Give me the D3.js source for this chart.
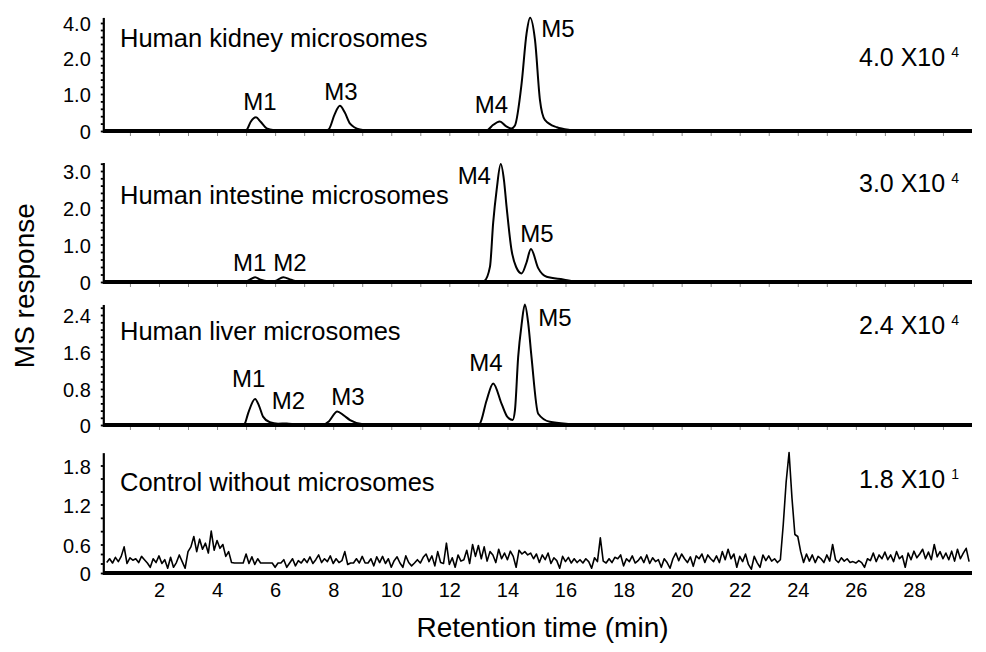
<!DOCTYPE html>
<html><head><meta charset="utf-8">
<script src="https://cdn.jsdelivr.net/npm/d3@7"></script>
<style>
body{margin:0;background:#fff}
text{font-family:"Liberation Sans",Arial,Helvetica,sans-serif;fill:#000}
</style>
</head><body>
<svg id="chart" width="986" height="652"></svg>
<script>
// ---------------- DATA ----------------
const panelTitles = ["Human kidney microsomes","Human intestine microsomes","Human liver microsomes","Control without microsomes"];
const scaleMantissa = ["4.0 X10","3.0 X10","2.4 X10","1.8 X10"];
const scaleExponent = ["4","4","4","1"];
const yTickValues = [[0,1,2,4],[0,1,2,3],[0,0.8,1.6,2.4],[0,0.6,1.2,1.8]];
const yTickLabels = [["0","1.0","2.0","4.0"],["0","1.0","2.0","3.0"],["0","0.8","1.6","2.4"],["0","0.6","1.2","1.8"]];
const yAxisTop = [4.29,3.22,2.62,1.99];
const yMinorStep = [[0.2,0.4],[0.2,0.2],[0.16,0.16],[0.2,0.2]];
const xTickValues = [2,4,6,8,10,12,14,16,18,20,22,24,26,28];
const xMinorTicks = [1,2,3,4,5,6,7,8,9,10,11,12,13,14,15,16,17,18,19,20,21,22,23,24,25,26,27,28,29];
const xDomain = [0.1,30];

// chromatograms: [retention time (min), response]
const kidneyTrace = [[0.1,0],[4.9,0],[5.02,0.03],[5.16,0.25],[5.34,0.37],[5.5,0.25],[5.71,0.07],[6.0,0.02],[6.4,0],
  [7.7,0],[7.85,0.05],[8.05,0.45],[8.23,0.68],[8.4,0.5],[8.58,0.2],[8.92,0.04],[9.3,0],
  [13.2,0],[13.33,0.03],[13.5,0.16],[13.74,0.26],[13.95,0.13],[14.14,0.07],[14.26,0.15],[14.49,1.3],[14.66,3.41],[14.78,4.3],
  [14.95,3.03],[15.12,0.84],[15.29,0.3],[15.7,0.1],[16.15,0.03],[16.8,0],[30,0]];
const intestineTrace = [[0.1,0],[4.95,0],[5.1,0.05],[5.31,0.13],[5.5,0.06],[5.75,0.02],[6.0,0.03],[6.28,0.13],[6.55,0.06],[6.9,0],
  [13.1,0],[13.21,0.03],[13.4,0.41],[13.51,1.59],[13.63,2.49],[13.77,3.19],[13.88,2.76],[13.97,2.03],[14.14,0.86],[14.3,0.4],
  [14.49,0.23],[14.65,0.5],[14.81,0.88],[15.06,0.37],[15.35,0.14],[15.92,0.07],[16.5,0],[30,0]];
const liverTrace = [[0.1,0],[4.85,0],[4.95,0.03],[5.07,0.26],[5.31,0.58],[5.45,0.42],[5.59,0.18],[5.82,0.06],[6.1,0.03],[6.4,0.035],[6.7,0.01],[7.0,0],
  [7.65,0],[7.85,0.08],[8.14,0.3],[8.35,0.22],[8.58,0.11],[8.98,0.02],[9.3,0],
  [12.95,0],[13.05,0.03],[13.28,0.54],[13.51,0.92],[13.8,0.47],[14.0,0.18],[14.18,0.11],[14.26,0.33],[14.37,1.48],[14.49,2.2],[14.6,2.63],
  [14.72,2.2],[14.83,1.48],[15.06,0.25],[15.46,0.07],[16.15,0.02],[16.8,0],[30,0]];
// control trace: sampled every 0.1 min starting at 0.2 min
const controlStart = 0.2, controlStep = 0.1;
const controlValues = [
  0.22,0.3,0.21,0.33,0.24,0.35,0.55,0.2,0.32,0.27,
  0.3,0.22,0.35,0.28,0.21,0.12,0.3,0.22,0.36,0.2,
  0.28,0.1,0.33,0.12,0.22,0.38,0.24,0.1,0.45,0.55,
  0.72,0.45,0.68,0.5,0.62,0.42,0.8,0.48,0.66,0.52,
  0.6,0.35,0.45,0.22,0.21,0.21,0.21,0.21,0.4,0.2,
  0.34,0.18,0.3,0.21,0.21,0.21,0.21,0.21,0.12,0.21,
  0.21,0.28,0.12,0.21,0.3,0.15,0.26,0.21,0.3,0.22,
  0.34,0.2,0.28,0.38,0.22,0.3,0.24,0.36,0.2,0.3,
  0.22,0.26,0.45,0.18,0.21,0.21,0.3,0.21,0.35,0.21,
  0.21,0.3,0.15,0.34,0.22,0.35,0.2,0.3,0.12,0.26,
  0.34,0.21,0.12,0.36,0.22,0.15,0.21,0.28,0.21,0.33,
  0.4,0.24,0.36,0.15,0.45,0.22,0.2,0.62,0.18,0.32,
  0.12,0.38,0.25,0.28,0.48,0.2,0.6,0.35,0.58,0.3,
  0.55,0.25,0.45,0.38,0.22,0.5,0.3,0.42,0.28,0.46,
  0.35,0.12,0.48,0.4,0.45,0.38,0.42,0.3,0.4,0.22,
  0.38,0.28,0.42,0.2,0.32,0.26,0.1,0.35,0.24,0.33,
  0.21,0.3,0.22,0.28,0.21,0.3,0.24,0.1,0.32,0.24,
  0.7,0.25,0.21,0.3,0.22,0.33,0.3,0.38,0.15,0.3,
  0.24,0.36,0.21,0.26,0.34,0.22,0.38,0.2,0.32,0.24,
  0.28,0.12,0.3,0.22,0.1,0.3,0.42,0.26,0.4,0.3,
  0.22,0.34,0.14,0.36,0.3,0.4,0.22,0.38,0.3,0.24,
  0.36,0.22,0.45,0.28,0.5,0.3,0.4,0.12,0.35,0.24,
  0.4,0.18,0.08,0.35,0.22,0.12,0.38,0.26,0.36,0.25,
  0.3,0.22,0.28,0.9,1.55,2.0,1.3,0.75,0.72,0.45,
  0.22,0.4,0.25,0.38,0.22,0.35,0.3,0.22,0.38,0.25,
  0.6,0.28,0.22,0.32,0.25,0.3,0.22,0.24,0.21,0.26,
  0.22,0.12,0.3,0.26,0.42,0.24,0.38,0.3,0.44,0.28,
  0.38,0.24,0.45,0.3,0.36,0.12,0.42,0.28,0.46,0.32,
  0.4,0.5,0.3,0.44,0.28,0.6,0.34,0.45,0.3,0.42,
  0.28,0.46,0.25,0.5,0.3,0.42,0.52,0.24];
const controlTrace = controlValues.map((v,i)=>[controlStart + i*controlStep, v]);
const traces = [kidneyTrace, intestineTrace, liverTrace, controlTrace];

// peak labels: [name, retention time, response] anchor of label
const peakLabels = [
  [["M1",5.48,0.57],["M3",8.27,0.84],["M4",13.45,0.49],["M5",15.74,3.2]],
  [["M1",5.12,0.29],["M2",6.51,0.29],["M4",12.86,2.64],["M5",15.02,1.07]],
  [["M1",5.09,0.84],["M2",6.46,0.36],["M3",8.51,0.44],["M4",13.26,1.18],["M5",15.64,2.16]],
  []
];

// ---------------- LAYOUT ----------------
const panelRanges = [[131,94,58,23],[282,244.5,207.5,171],[425,389,351.5,315],[573,544.5,504.5,465.5]];
const titleBaselines = [47,204,340,491];
const scaleBaselines = [65.5,192,334,488];
const traceWidths = [2,2,2,1.6];

const svg = d3.select("#chart");
const x = d3.scaleLinear().domain(xDomain).range([103.8,972]);
const x0 = x(xDomain[0]);

panelTitles.forEach((title,i)=>{
  const y = d3.scaleLinear().domain(yTickValues[i]).range(panelRanges[i]);
  const g = svg.append("g");

  const top = yAxisTop[i];
  const mid = yTickValues[i][2];
  const minor = d3.range(0, mid+1e-6, yMinorStep[i][0]).concat(d3.range(mid+yMinorStep[i][1], top+1e-6, yMinorStep[i][1]));
  const minorAxis = g.append("g").attr("transform",`translate(${x0},0)`)
    .call(d3.axisLeft(y).tickValues(minor).tickSize(3).tickFormat(""));
  minorAxis.select(".domain").remove();
  minorAxis.selectAll("line").attr("stroke","#000").attr("stroke-width",1.8);

  const labAxis = g.append("g").attr("transform",`translate(${x0},0)`)
    .call(d3.axisLeft(y).tickValues(yTickValues[i]).tickSize(0).tickPadding(13)
      .tickFormat((d,k)=>yTickLabels[i][k]));
  labAxis.select(".domain").remove();
  labAxis.selectAll("text").attr("font-size",20).attr("font-family",null).attr("dy","0.38em");

  if(i<3){
    const xa = g.append("g").attr("transform",`translate(0,${y(0)+2})`)
      .call(d3.axisBottom(x).tickValues(xMinorTicks).tickSize(3).tickFormat(""));
    xa.select(".domain").remove();
    xa.selectAll("line").attr("stroke","#888").attr("stroke-width",1);
  } else {
    const xa = g.append("g").attr("transform",`translate(0,${y(0)})`)
      .call(d3.axisBottom(x).tickValues(xTickValues).tickSize(0).tickPadding(10));
    xa.select(".domain").remove();
    xa.selectAll("text").attr("font-size",20).attr("font-family",null);
  }

  g.append("line").attr("x1",x0).attr("x2",x(xDomain[1])).attr("y1",y(0)).attr("y2",y(0))
    .attr("stroke","#000").attr("stroke-width",4);
  g.append("line").attr("x1",x0).attr("x2",x0).attr("y1",y(0)+2).attr("y2",y(top))
    .attr("stroke","#000").attr("stroke-width",2.2);

  const line = d3.line().x(d=>x(d[0])).y(d=>y(d[1]))
    .curve(i<3 ? d3.curveMonotoneX : d3.curveLinear);
  g.append("path").datum(traces[i]).attr("d",line).attr("fill","none")
    .attr("stroke","#000").attr("stroke-width",traceWidths[i]).attr("stroke-linejoin","round");

  g.selectAll(".pk").data(peakLabels[i]).enter().append("text")
    .attr("x",d=>x(d[1])).attr("y",d=>y(d[2])).attr("text-anchor","middle")
    .attr("font-size",24).text(d=>d[0]);

  g.append("text").attr("x",120).attr("y",titleBaselines[i]).attr("font-size",25.5).text(title);

  const st = g.append("text").attr("x",859).attr("y",scaleBaselines[i]).attr("font-size",25);
  st.append("tspan").text(scaleMantissa[i]);
  st.append("tspan").attr("dx",6).attr("dy",-9).attr("font-size",14).text(scaleExponent[i]);
});

svg.append("text").attr("x",542.5).attr("y",637).attr("text-anchor","middle")
  .attr("font-size",28).text("Retention time (min)");
svg.append("text").attr("transform","translate(33.5,285.7) rotate(-90)").attr("text-anchor","middle")
  .attr("font-size",28).text("MS response");
</script>
</body></html>
